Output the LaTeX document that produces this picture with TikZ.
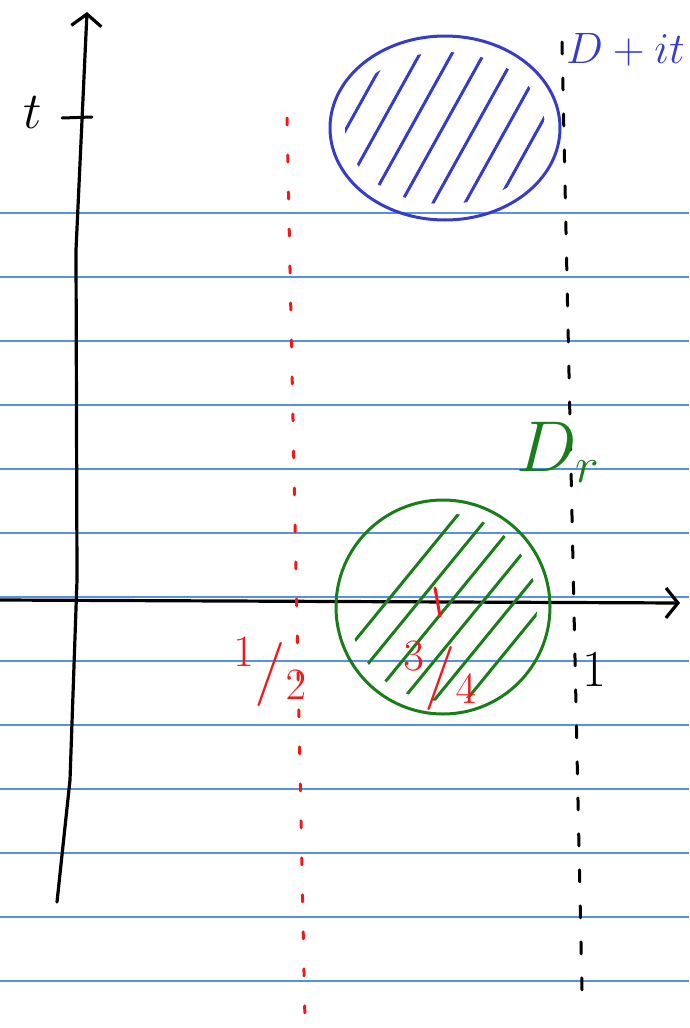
\RequirePackage{fix-cm}
\documentclass[tikz,border=0pt]{standalone}
\usetikzlibrary{arrows.meta,shapes.geometric}
\definecolor{rulecol}{RGB}{85,145,235}
\definecolor{greenink}{RGB}{25,125,25}
\definecolor{blueink}{RGB}{55,60,200}
\definecolor{redink}{RGB}{240,25,25}
\begin{document}
\begin{tikzpicture}[
   x=1pt,y=-1pt,
   nbrule/.style={draw=rulecol,line width=1.2pt},
   nbaxis/.style={line width=3.2pt,line cap=round,line join=round,
     -{Straight Barb[length=12pt,width=30pt,line width=3.2pt]}},
   nbtick/.style={line width=3pt,line cap=round},
   nbdash/.style={line width=3pt,line cap=round,dash pattern=on 12pt off 24pt},
   nbdot/.style={redink,line width=3pt,line cap=round,dash pattern=on 7pt off 30pt},
   nbdisk/.style={draw,line width=3pt,inner sep=0pt},
   nbhatch/.style={line width=3pt,line cap=round},
   nblabel/.style={inner sep=0pt,font=\fontsize{52}{54}\selectfont},
   nbfrac/.style={inner sep=0pt,redink,font=\fontsize{64}{66}\selectfont}
 ]
 \useasboundingbox (0,0) rectangle (689,1028);
 % notebook ruling
 \foreach \k in {0,...,12} {
   \draw[nbrule] (0,213+64*\k) -- (689,213+64*\k);
 }
 % axes
 \coordinate (tlo) at (57,902);
 \coordinate (thi) at (87,12);
 \coordinate (sleft) at (0,600);
 \coordinate (sright) at (680,603);
 \draw[nbaxis] (tlo) -- (70,780) -- (77,580) -- (76,250) -- (thi);
 \draw[nbaxis] (sleft) -- (sright);
 \coordinate (tka) at (62,118);
 \coordinate (tkb) at (92,117);
 \draw[nbtick] (tka) -- (tkb);
 \node[nblabel] (tlab) at (33,113) {$t$};
 % Re s = 1 and Re s = 1/2
 \coordinate (onetop) at (562,42);
 \coordinate (onebot) at (582,990);
 \draw[nbdash] (onetop) -- (onebot);
 \node[nblabel] (onelab) at (594,670) {$1$};
 \coordinate (halftop) at (287,118);
 \coordinate (halfbot) at (305,1022);
 \draw[nbdot] (halftop) -- (halfbot);
 \node[nbfrac] (halflab) at (270,672) {$^{1}/_{2}$};
 % disk D_r
 \node[nbdisk,greenink,circle,minimum size=214pt] (dr) at (443,607) {};
 \begin{scope}
   \clip (443,607) ellipse [x radius=94, y radius=94];
   \foreach \s in {290,322,...,600} {
     \draw[nbhatch,greenink] (\s,720) -- ++(180,-220);
   }
 \end{scope}
 \coordinate (qka) at (435,588);
 \coordinate (qkb) at (440,616);
 \draw[nbtick,redink] (qka) -- (qkb);
 \node[nblabel,greenink,font=\fontsize{72}{74}\selectfont] (drlab) at (558,452) {$D_{r}$};
 \node[nbfrac] (qlab) at (440,676) {$^{3}/_{4}$};
 % shifted disk D + it
 \node[nbdisk,blueink,ellipse,minimum width=230pt,minimum height=184pt] (dt) at (445,128) {};
 \begin{scope}
   \clip (445,128) ellipse [x radius=100, y radius=76];
   \foreach \s in {290,322,...,560} {
     \draw[nbhatch,blueink] (\s,230) -- ++(125,-225);
   }
 \end{scope}
 \node[nblabel,blueink,font=\fontsize{44}{46}\selectfont,anchor=west] (dtlab) at (566,50) {$D+it$};
 \end{tikzpicture}
\end{document}
